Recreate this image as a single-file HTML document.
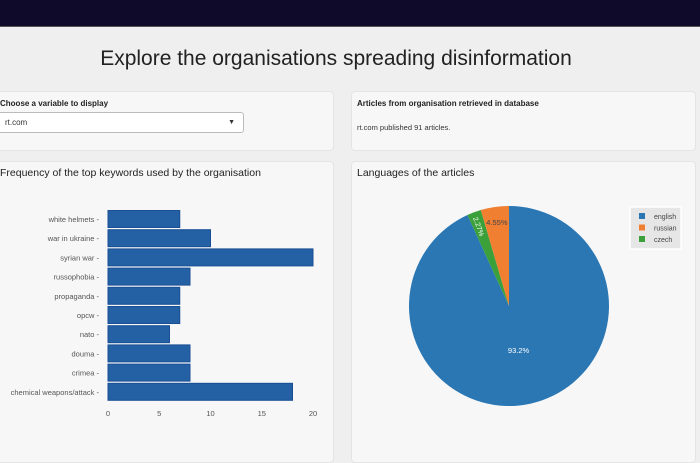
<!DOCTYPE html>
<html><head><meta charset="utf-8"><style>
body{margin:0;width:700px;height:450px;overflow:hidden;background:#efefef;font-family:"Liberation Sans",sans-serif;position:relative}
.abs{position:absolute}
.panel{position:absolute;background:#f7f7f7;border:1px solid #e4e4e4;border-radius:4px}
</style></head><body>
<div class="abs" style="left:0;top:0;width:700px;height:26px;background:#0f0a2a;border-bottom:1px solid #555"></div>
<div class="abs" style="left:-14px;top:47px;width:700px;text-align:center;font-size:21px;color:#222">Explore the organisations spreading disinformation</div>

<div class="panel" style="left:-5px;top:91px;width:337px;height:58px">
<div class="abs" style="left:4px;top:7px;font-size:8px;font-weight:bold;color:#222">Choose a variable to display</div>
<div class="abs" style="left:2px;top:20px;width:244px;height:19px;background:#fff;border:1px solid #bbb;border-radius:3px;font-size:8px;line-height:19px;color:#333"><span style="margin-left:6px">rt.com</span><span style="position:absolute;right:8px;top:0;font-size:7px">▼</span></div>
</div>
<div class="panel" style="left:351px;top:91px;width:343px;height:58px">
<div class="abs" style="left:5px;top:7px;font-size:8px;font-weight:bold;color:#222">Articles from organisation retrieved in database</div>
<div class="abs" style="left:5px;top:31px;font-size:7.5px;color:#333">rt.com published 91 articles.</div>
</div>

<div class="panel" style="left:-5px;top:161px;width:337px;height:300px"></div>
<div class="panel" style="left:351px;top:161px;width:343px;height:300px"></div>
<div class="abs" style="left:0;top:167px;font-size:10.5px;color:#222">Frequency of the top keywords used by the organisation</div>
<div class="abs" style="left:357px;top:167px;font-size:10.5px;color:#222">Languages of the articles</div>

<svg class="abs" style="left:0;top:0" width="700" height="450" id="chart"></svg>
<script>
const keywords=["white helmets","war in ukraine","syrian war","russophobia","propaganda","opcw","nato","douma","crimea","chemical weapons/attack"];
const counts=[7,10,20,8,7,7,6,8,8,18];
const xTicks=[0,5,10,15,20];
const languages=["english","russian","czech"];
const langCounts=[41,2,1];
const langLabels=["93.2%","4.55%","2.27%"];
const langColors=["#2a77b4","#f07f32","#3ca03a"];
const NS="http://www.w3.org/2000/svg";
const svg=document.getElementById('chart');
function mk(t,a){const e=document.createElementNS(NS,t);for(const k in a)e.setAttribute(k,a[k]);return e;}
const x=v=>108+v*10.25;
const y=i=>210.5+i*19.2;
keywords.forEach((k,i)=>{
 const r=mk('rect',{x:x(0),y:y(i),width:x(counts[i])-x(0),height:17,fill:'#2460a4',stroke:'#1a4f95','stroke-width':1});
 
 
 svg.appendChild(r);
 const t=mk('text',{x:99,y:y(i)+11.5,'text-anchor':'end','font-size':7.5,fill:'#555','font-family':'Liberation Sans, sans-serif'});
 t.textContent=k+' -';
 
 
 svg.appendChild(t);
});
xTicks.forEach(v=>{
 const t=mk('text',{x:x(v),y:416,'text-anchor':'middle','font-size':7.5,fill:'#555','font-family':'Liberation Sans, sans-serif'});
 t.textContent=v;
 
 
 svg.appendChild(t);
});
const cx=509,cy=306,R=100;
const order=[0,2,1];
const total=langCounts.reduce((a,b)=>a+b,0);
let ang=0;
order.forEach(i=>{
 const a0=ang,a1=ang+langCounts[i]/total*2*Math.PI;ang=a1;
 const p=a=>[cx+R*Math.sin(a),cy-R*Math.cos(a)];
 const [x0,y0]=p(a0),[x1,y1]=p(a1);
 const large=(a1-a0)>Math.PI?1:0;
 const s=mk('path',{d:`M${cx},${cy}L${x0},${y0}A${R},${R} 0 ${large} 1 ${x1},${y1}Z`,fill:langColors[i]});
 
 
 svg.appendChild(s);
 const m=(a0+a1)/2;
 let lr=i===0?0.45:0.85;
 const t=mk('text',{x:cx+R*lr*Math.sin(m),y:cy-R*lr*Math.cos(m)+3,'text-anchor':'middle','font-size':7.5,fill:i===1?'#444':'#fff','font-family':'Liberation Sans, sans-serif'});
 if(i===2){t.setAttribute('transform',`rotate(${m*180/Math.PI-90+180} ${cx+R*lr*Math.sin(m)} ${cy-R*lr*Math.cos(m)})`);t.setAttribute('font-size',7);}
 t.textContent=langLabels[i];
 
 
 svg.appendChild(t);
});
const lg=mk('rect',{x:630,y:207,width:51,height:42,fill:'#e6e6e6',stroke:'#fff','stroke-width':1.5});


svg.appendChild(lg);
languages.forEach((l,i)=>{
 const r=mk('rect',{x:639,y:213+i*11.5,width:6,height:6,fill:langColors[i]});
 
 
 svg.appendChild(r);
 const t=mk('text',{x:654,y:219+i*11.5,'font-size':7,fill:'#444','font-family':'Liberation Sans, sans-serif'});
 t.textContent=l;
 
 
 svg.appendChild(t);
});
</script>
</body></html>
